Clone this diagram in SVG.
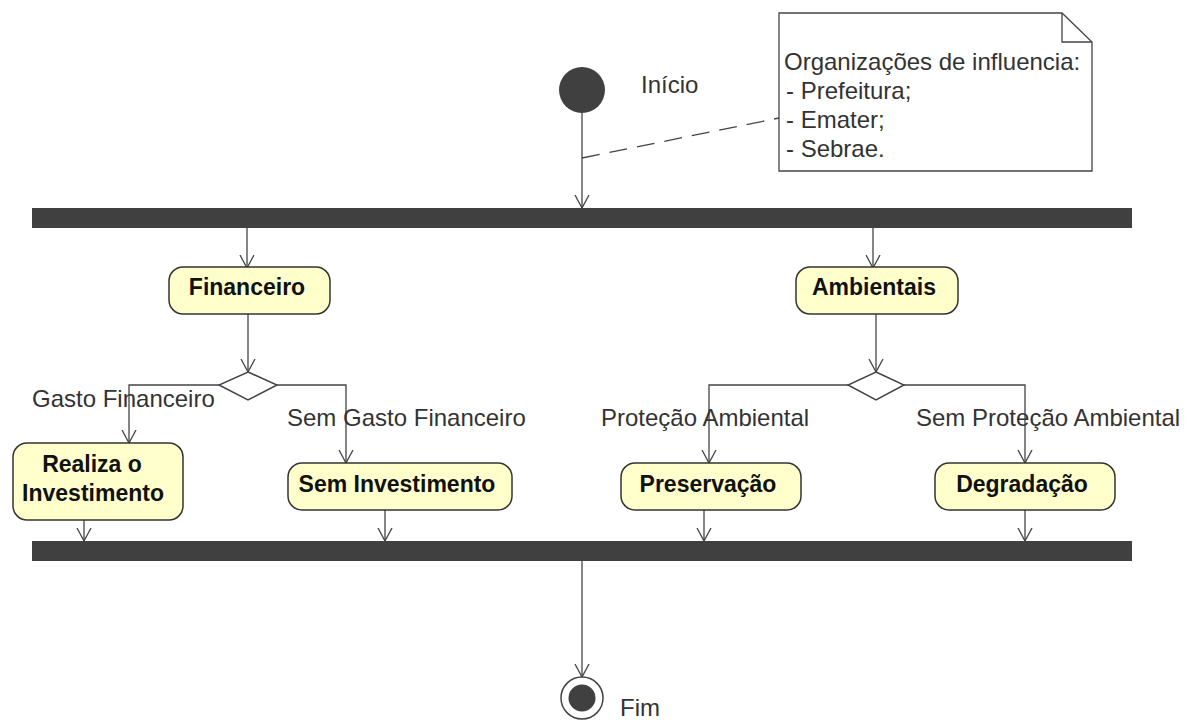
<svg xmlns="http://www.w3.org/2000/svg" width="1191" height="720" viewBox="0 0 1191 720">
  <style>
    .bar { fill: #404040; }
    .act { fill: #ffffcc; stroke: #333333; stroke-width: 1.5; }
    .act-label { font-family: "Liberation Sans", Arial, sans-serif; font-size: 23px; font-weight: bold; fill: #111111; text-anchor: middle; }
    .label { font-family: "Liberation Sans", Arial, sans-serif; font-size: 24px; fill: #333333; }
    .flow { fill: none; stroke: #444444; stroke-width: 1.3; marker-end: url(#open-arrow); }
    .line { fill: none; stroke: #444444; stroke-width: 1.3; }
    .note { fill: #ffffff; stroke: #444444; stroke-width: 1.3; }
    .decision { fill: #ffffff; stroke: #444444; stroke-width: 1.5; }
  </style>
  <defs>
    <marker id="open-arrow" viewBox="0 0 13 16" refX="13" refY="8" markerWidth="13" markerHeight="16" markerUnits="userSpaceOnUse" orient="auto">
      <path d="M0,1 L13,8 L0,15" fill="none" stroke="#444444" stroke-width="1.3"/>
    </marker>
  </defs>
  <rect width="1191" height="720" fill="#ffffff"/>

  <!-- control flows -->
  <g id="connectors">
    <path class="flow" d="M582,113 V208"/>
    <path class="line" d="M582,158 L779,118" stroke-dasharray="18,10"/>
    <path class="flow" d="M247,228 V268"/>
    <path class="flow" d="M873,228 V268"/>
    <path class="flow" d="M248,314 V372"/>
    <path class="flow" d="M876,314 V372"/>
    <path class="flow" d="M219,385 H129 V443"/>
    <path class="flow" d="M277,385 H346 V463"/>
    <path class="flow" d="M848,385 H709 V463"/>
    <path class="flow" d="M904,385 H1025 V463"/>
    <path class="flow" d="M84,520 V541"/>
    <path class="flow" d="M385,510 V541"/>
    <path class="flow" d="M704,510 V541"/>
    <path class="flow" d="M1025,510 V541"/>
    <path class="flow" d="M582,561 V677"/>
  </g>

  <g id="start">
    <circle cx="582" cy="90" r="23" fill="#404040"/>
    <text class="label" x="641" y="93">Início</text>
  </g>

  <g id="note">
    <path class="note" d="M779,13 H1062 L1092,42 V171 H779 Z"/>
    <path class="line" d="M1062,13 V42 H1092"/>
    <text class="label" x="784" y="70">Organizações de influencia:</text>
    <text class="label" x="786" y="99">- Prefeitura;</text>
    <text class="label" x="786" y="128">- Emater;</text>
    <text class="label" x="786" y="157">- Sebrae.</text>
  </g>

  <g id="fork">
    <rect class="bar" x="32" y="208" width="1100" height="20"/>
  </g>

  <g id="financeiro">
    <rect class="act" x="169" y="267" width="161" height="47" rx="14"/>
    <text class="act-label" x="247" y="295">Financeiro</text>
  </g>

  <g id="ambientais">
    <rect class="act" x="796" y="267" width="162" height="47" rx="14"/>
    <text class="act-label" x="874" y="295">Ambientais</text>
  </g>

  <g id="decision-financeiro">
    <path class="decision" d="M248,372 L277,385 L248,400 L219,385 Z"/>
    <text class="label" x="32" y="407">Gasto Financeiro</text>
    <text class="label" x="287" y="426">Sem Gasto Financeiro</text>
  </g>

  <g id="decision-ambientais">
    <path class="decision" d="M876,372 L904,385 L876,400 L848,385 Z"/>
    <text class="label" x="601" y="426">Proteção Ambiental</text>
    <text class="label" x="916" y="426">Sem Proteção Ambiental</text>
  </g>

  <g id="realiza-investimento">
    <rect class="act" x="13" y="443" width="170" height="77" rx="14"/>
    <text class="act-label" x="92" y="472">Realiza o</text>
    <text class="act-label" x="93" y="501">Investimento</text>
  </g>

  <g id="sem-investimento">
    <rect class="act" x="288" y="463" width="224" height="47" rx="14"/>
    <text class="act-label" x="397" y="492">Sem Investimento</text>
  </g>

  <g id="preservacao">
    <rect class="act" x="621" y="463" width="180" height="47" rx="14"/>
    <text class="act-label" x="708" y="492">Preservação</text>
  </g>

  <g id="degradacao">
    <rect class="act" x="935" y="463" width="180" height="47" rx="14"/>
    <text class="act-label" x="1022" y="492">Degradação</text>
  </g>

  <g id="join">
    <rect class="bar" x="32" y="541" width="1100" height="20"/>
  </g>

  <g id="end">
    <circle cx="582" cy="698" r="21" fill="#ffffff" stroke="#444444" stroke-width="1.5"/>
    <circle cx="582" cy="698" r="13.5" fill="#404040"/>
    <text class="label" x="620" y="716">Fim</text>
  </g>
</svg>
